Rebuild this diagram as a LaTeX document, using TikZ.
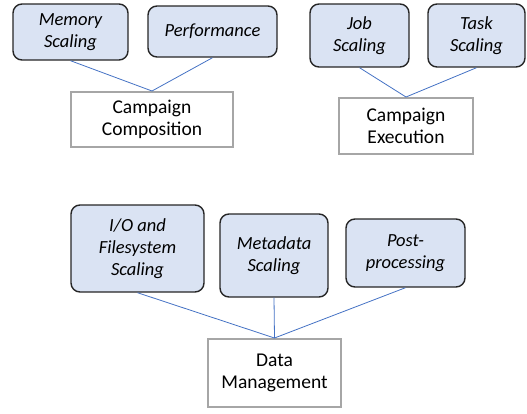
\documentclass[tikz,border=0pt]{standalone}
\usepackage{fontspec}
\setmainfont{Carlito}
\definecolor{topfill}{HTML}{DAE3F3}
\definecolor{topdraw}{HTML}{262626}
\definecolor{basedraw}{HTML}{A6A6A6}
\definecolor{linkcol}{HTML}{4472C4}
\begin{document}
\begin{tikzpicture}[x=1pt,y=-1pt,
  topic/.style={draw=topdraw, fill=topfill, line width=1.4pt, rounded corners=9pt,
    align=center, inner sep=0pt, font=\fontsize{18.5}{22}\selectfont\itshape},
  area/.style={draw=basedraw, fill=white, line width=2pt,
    align=center, inner sep=0pt, font=\fontsize{19.5}{22}\selectfont},
  link/.style={draw=linkcol, line width=0.8pt}]
\useasboundingbox (0,0) rectangle (527,413);
% top left group
\node[topic, minimum width=115pt, minimum height=56pt] (mem) at (70.5,32) {Memory\\Scaling};
\node[topic, minimum width=129pt, minimum height=51pt] (perf) at (212.5,31.5) {Performance};
\node[area, minimum width=162pt, minimum height=55pt] (comp) at (152,119.5) {Campaign\\Composition};
% top right group
\node[topic, minimum width=99pt, minimum height=63pt] (job) at (359.5,35.5) {Job\\Scaling};
\node[topic, minimum width=97pt, minimum height=63pt] (task) at (476.5,35.5) {Task\\Scaling};
\node[area, minimum width=134pt, minimum height=56pt] (exec) at (406,126) {Campaign\\Execution};
% bottom group
\node[topic, minimum width=133pt, minimum height=87pt] (io) at (137.5,248.5) {I/O and\\Filesystem\\Scaling};
\node[topic, minimum width=108pt, minimum height=83pt] (meta) at (274,255.5) {Metadata\\Scaling};
\node[topic, minimum width=119pt, minimum height=68pt] (post) at (405.5,253) {Post-\\processing};
\node[area, minimum width=133pt, minimum height=68pt] (dm) at (274.5,373) {Data\\Management};
% connectors
\draw[link] (mem.south) -- (comp.north);
\draw[link] (perf.south) -- (comp.north);
\draw[link] (job.south) -- (exec.north);
\draw[link] (task.south) -- (exec.north);
\draw[link] (io.south) -- (dm.north);
\draw[link] (meta.south) -- (dm.north);
\draw[link] (post.south) -- (dm.north);
\end{tikzpicture}
\end{document}
